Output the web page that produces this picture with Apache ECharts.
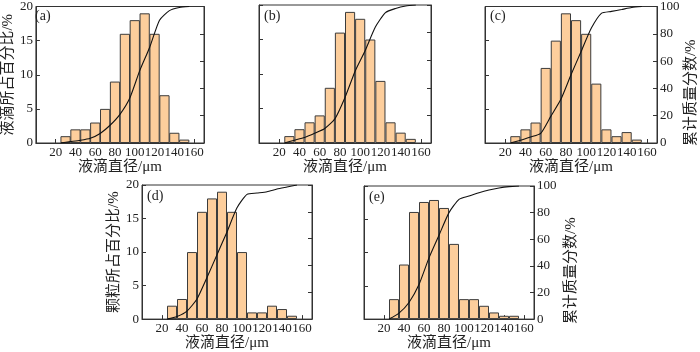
<!DOCTYPE html>
<html>
<head>
<meta charset="utf-8">
<script src="https://cdn.jsdelivr.net/npm/echarts@6/dist/echarts.min.js"></script>
<style>
html,body{margin:0;padding:0;background:#fff}
#main{width:700px;height:352px}
</style>
</head>
<body>
<div id="main"></div>
<script>
// 粒径分布数据
var sizes = [30, 40, 50, 60, 70, 80, 90, 100, 110, 120, 130, 140, 150];
var edges = [25, 35, 45, 55, 65, 75, 85, 95, 105, 115, 125, 135, 145, 155];
var xTicks = [20, 40, 60, 80, 100, 120, 140, 160];

var pctA = [1, 2, 2, 3, 5, 9, 16, 18, 19, 16, 7, 1.5, 0.5];
var cumA = [0, 1, 2, 3.5, 7, 13, 21, 33, 53, 70, 90, 97, 99.3, 100];
var pctB = [1, 2, 3, 4, 8, 16, 19, 18, 15, 9, 3, 1.5, 0.6];
var cumB = [0, 2, 4, 7, 10.5, 17.5, 33, 52, 67, 84, 94.5, 97.5, 99.3, 100];
var pctC = [1, 2, 3, 11, 15, 19, 18, 16, 8.7, 2, 1, 1.6, 0.5];
var cumC = [0, 2, 4.4, 7, 19.5, 32, 50, 67, 84, 95, 96.4, 97.8, 99.3, 100];
var pctD = [2, 3, 10, 16, 18, 19, 16, 10, 1, 1, 2, 1.5, 0.5];
var cumD = [0, 2, 6, 15, 31, 48, 65, 83, 93, 94, 95, 97, 98.5, 100];
var pctE = [3, 8.2, 16.1, 17.6, 17.9, 16.7, 11.3, 3, 3, 2, 1, 0.5, 0.5];
var cumE = [0, 4.5, 12.5, 26, 46, 63, 80, 90, 92.5, 95, 97, 98.5, 99.5, 100];

var tags = ['(a)', '(b)', '(c)', '(d)', '(e)'];
var pcts = [pctA, pctB, pctC, pctD, pctE];
var cums = [cumA, cumB, cumC, cumD, cumE];
var xName = '液滴直径/μm';
var leftNames = ['液滴所占百分比/%', '', '', '颗粒所占百分比/%', ''];
var rightName = '累计质量分数/%';

// 布局
var boxes = [
    {left: 30, top: 5, width: 174, height: 138, leftLab: true, rightLab: false, lGap: 14},
    {left: 259, top: 5, width: 172, height: 138, leftLab: false, rightLab: false},
    {left: 485, top: 5, width: 172, height: 138, leftLab: false, rightLab: true, rGap: 26},
    {left: 142, top: 185, width: 170, height: 138, leftLab: true, rightLab: false, lGap: 20},
    {left: 364, top: 186, width: 170, height: 137, leftLab: false, rightLab: true, rGap: 30}
];

var fam = "'Liberation Serif', 'Noto Sans CJK SC', serif";
var txtColor = '#222';
var lineColor = '#333';

var grids = [], xAxes = [], yAxes = [], series = [], titles = [];

boxes.forEach(function (b, i) {
    grids.push({
        left: b.left, top: b.top, width: b.width, height: b.height,
        show: true, borderColor: lineColor, borderWidth: 1
    });
    titles.push({
        text: tags[i], left: b.left + 5, top: b.top + 4, padding: 0,
        textStyle: {fontFamily: fam, fontSize: 14, fontWeight: 'normal', color: txtColor}
    });
    xAxes.push({
        type: 'value', gridIndex: i, min: 0, max: 170, interval: 20,
        name: xName, nameLocation: 'middle', nameGap: 15,
        nameTextStyle: {fontFamily: fam, fontSize: 15, color: txtColor},
        axisLine: {lineStyle: {color: lineColor}},
        axisTick: {inside: true, length: 4, lineStyle: {color: lineColor}},
        splitLine: {show: false},
        axisLabel: {
            margin: 3, fontFamily: fam, fontSize: 13, color: txtColor,
            formatter: function (v) { return xTicks.indexOf(v) >= 0 ? v : ''; }
        }
    });
    yAxes.push({
        type: 'value', gridIndex: i, min: 0, max: 20, interval: 5, position: 'left',
        name: leftNames[i], nameLocation: 'middle', nameGap: b.lGap || 0,
        nameTextStyle: {fontFamily: fam, fontSize: 15, color: txtColor},
        axisLine: {show: true, lineStyle: {color: lineColor}},
        axisTick: {show: true, inside: true, length: 4, lineStyle: {color: lineColor}},
        splitLine: {show: false},
        axisLabel: {show: b.leftLab, margin: 3, fontFamily: fam, fontSize: 13, color: txtColor}
    });
    yAxes.push({
        type: 'value', gridIndex: i, min: 0, max: 100, interval: 20, position: 'right',
        name: b.rightLab ? rightName : '', nameLocation: 'middle', nameGap: b.rGap || 0,
        nameTextStyle: {fontFamily: fam, fontSize: 15, color: txtColor, padding: [0, 36, 0, 0]},
        axisLine: {show: true, lineStyle: {color: lineColor}},
        axisTick: {show: true, inside: true, length: 4, lineStyle: {color: lineColor}},
        splitLine: {show: false},
        axisLabel: {show: b.rightLab, margin: 3, fontFamily: fam, fontSize: 13, color: txtColor}
    });
    series.push({
        type: 'bar', xAxisIndex: i, yAxisIndex: 2 * i,
        barWidth: 10 * b.width / 170,
        data: sizes.map(function (s, k) { return [s, pcts[i][k]]; }),
        itemStyle: {color: '#FDCE9C', borderColor: '#3c3c3c', borderWidth: 1},
        silent: true
    });
    series.push({
        type: 'line', xAxisIndex: i, yAxisIndex: 2 * i + 1,
        data: edges.map(function (e, k) { return [e, cums[i][k]]; }),
        symbol: 'none', smooth: 0.2, z: 5,
        lineStyle: {color: '#111', width: 1.1},
        silent: true
    });
});

var myChart = echarts.init(document.getElementById('main'));
myChart.setOption({
    animation: false,
    title: titles,
    grid: grids,
    xAxis: xAxes,
    yAxis: yAxes,
    series: series
});
</script>
</body>
</html>
